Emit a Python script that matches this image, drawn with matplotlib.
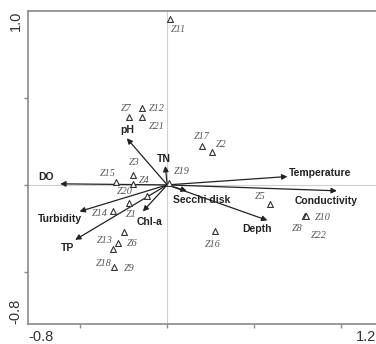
import matplotlib
matplotlib.use('Agg')
import matplotlib.pyplot as plt

# sample sites (ordination scores, axis 1 / axis 2)
sites = ['Z1', 'Z2', 'Z3', 'Z4', 'Z5', 'Z6', 'Z7', 'Z8', 'Z9', 'Z10', 'Z11',
         'Z12', 'Z13', 'Z14', 'Z15', 'Z16', 'Z17', 'Z18', 'Z19', 'Z20', 'Z21', 'Z22']
site_x = [-0.222, 0.257, -0.197, -0.194, 0.588, -0.251, -0.222, 0.791, -0.312, 0.793, 0.017,
          -0.142, -0.282, -0.312, -0.293, 0.272, 0.199, -0.303, 0.010, -0.117, -0.142, 0.795]
site_y = [-0.102, 0.188, 0.057, 0.004, -0.109, -0.273, 0.393, -0.177, -0.370, -0.178, 0.954,
          0.441, -0.335, -0.148, 0.019, -0.264, 0.224, -0.470, 0.010, -0.063, 0.393, -0.180]

# environmental variables (arrow tips)
env = ['pH', 'TN', 'DO', 'Turbidity', 'TP', 'Chl-a', 'Secchi disk',
       'Temperature', 'Conductivity', 'Depth']
env_x = [-0.232, -0.011, -0.615, -0.504, -0.529, -0.140, 0.113, 0.691, 0.975, 0.576]
env_y = [0.268, 0.109, 0.006, -0.153, -0.316, -0.153, -0.035, 0.048, -0.034, -0.204]

# label offsets in pixels
site_off = {'Z1': (3, -12), 'Z2': (9, 8), 'Z3': (1, 12), 'Z4': (11, 4), 'Z5': (-9, 7),
            'Z6': (9, -11), 'Z7': (-2, 8), 'Z8': (-8, -13), 'Z9': (16, -19), 'Z10': (18, -2),
            'Z11': (8, -11), 'Z12': (14, 0), 'Z13': (-13, 3), 'Z14': (-13, -3), 'Z15': (-8, 8),
            'Z16': (-2, -14), 'Z17': (0, 9), 'Z18': (-11, 3), 'Z19': (13, 12), 'Z20': (-22, 4),
            'Z21': (14, -10), 'Z22': (13, -19)}
env_off = {'pH': (0, 8, 'center'), 'TN': (-1, 7, 'center'), 'DO': (-14, 7, 'center'),
           'Turbidity': (-20, -8, 'center'), 'TP': (-8, -8, 'center'),
           'Chl-a': (7, -11, 'center'), 'Secchi disk': (15, -9, 'center'),
           'Temperature': (1, 4, 'left'), 'Conductivity': (-11, -10, 'center'),
           'Depth': (-10, -9, 'center')}

fig = plt.figure(figsize=(3.76, 3.44), dpi=100)
ax = fig.add_axes([28 / 376, 20 / 344, 348 / 376, 313 / 344])
ax.set_xlim(-0.8, 1.2)
ax.set_ylim(-0.8, 1.0)

ax.axhline(0, color='#cfcfcf', lw=0.8, zorder=0)
ax.axvline(0, color='#cfcfcf', lw=0.8, zorder=0)

for s in ['top', 'bottom', 'left']:
    ax.spines[s].set_color('#8a8a8a')
    ax.spines[s].set_linewidth(1.2)
ax.spines['right'].set_visible(False)

# end labels as major ticks, inner ticks as minor
ax.set_xticks([-0.8, 1.2], ['-0.8', '1.2'])
ax.set_yticks([-0.8, 1.0], ['-0.8', '1.0'])
ax.set_xticks([-0.5, 0, 0.5, 1.0], minor=True)
ax.set_yticks([-0.5, 0, 0.5], minor=True)
ax.tick_params(which='major', length=0, pad=4, labelsize=10.5, labelcolor='#333333')
ax.tick_params(which='minor', length=3, width=1, color='#8a8a8a', direction='out')
xl = ax.get_xticklabels()
xl[0].set_ha('left')
xl[1].set_ha('right')
for lab, va in zip(ax.get_yticklabels(), ['bottom', 'top']):
    lab.set_rotation(90)
    lab.set_va(va)
    lab.set_ha('right')
for lab in ax.get_xticklabels() + ax.get_yticklabels():
    lab.set_fontfamily('Liberation Sans')

# arrows for environmental variables
for name, x, y in zip(env, env_x, env_y):
    ax.annotate('', xy=(x, y), xytext=(0, 0),
                arrowprops=dict(arrowstyle='-|>', mutation_scale=8, lw=0.9,
                                color='#222222', shrinkA=0, shrinkB=0))
    dx, dy, ha = env_off[name]
    ax.annotate(name, xy=(x, y), xytext=(dx, dy), textcoords='offset pixels',
                ha=ha, va='center', fontsize=7.5, fontweight='bold',
                family='Liberation Sans', color='#222222')

# sites
ax.scatter(site_x, site_y, marker='^', s=18, facecolors='white',
           edgecolors='#333333', linewidths=0.8, zorder=3)
for name, x, y in zip(sites, site_x, site_y):
    dx, dy = site_off[name]
    ax.annotate(name, xy=(x, y), xytext=(dx, dy), textcoords='offset pixels',
                ha='center', va='center', fontsize=7.3, style='italic',
                family='Liberation Serif', color='#555555')

fig.savefig('out.png', dpi=100)
